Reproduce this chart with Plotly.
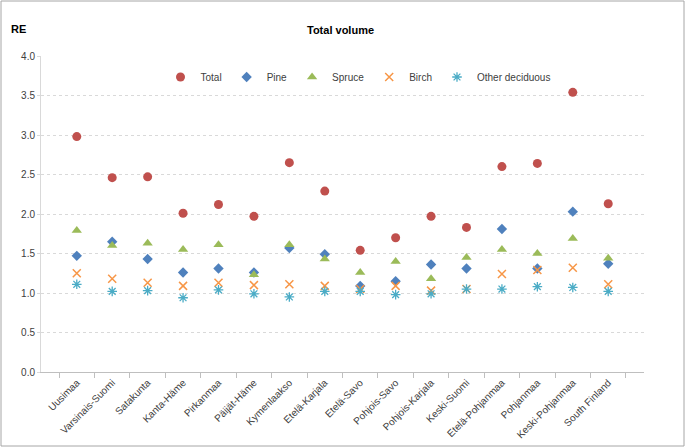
import plotly.graph_objects as go

regions = ["Uusimaa", "Varsinais-Suomi", "Satakunta", "Kanta-Häme", "Pirkanmaa",
           "Päijät-Häme", "Kymenlaakso", "Etelä-Karjala", "Etelä-Savo", "Pohjois-Savo",
           "Pohjois-Karjala", "Keski-Suomi", "Etelä-Pohjanmaa", "Pohjanmaa",
           "Keski-Pohjanmaa", "South Finland"]

total = [2.98, 2.46, 2.47, 2.01, 2.12, 1.97, 2.65, 2.29, 1.54, 1.70, 1.97, 1.83, 2.60, 2.64, 3.54, 2.13]
pine = [1.47, 1.65, 1.43, 1.26, 1.31, 1.26, 1.57, 1.49, 1.09, 1.15, 1.36, 1.31, 1.81, 1.31, 2.03, 1.37]
spruce = [1.79, 1.60, 1.63, 1.55, 1.61, 1.23, 1.61, 1.43, 1.26, 1.40, 1.18, 1.45, 1.55, 1.50, 1.69, 1.44]
birch = [1.25, 1.18, 1.13, 1.09, 1.13, 1.10, 1.11, 1.09, 1.05, 1.09, 1.03, 1.05, 1.24, 1.29, 1.32, 1.11]
other = [1.11, 1.02, 1.03, 0.94, 1.04, 0.99, 0.95, 1.02, 1.02, 0.98, 0.99, 1.05, 1.05, 1.08, 1.07, 1.02]

y_ticks = [0.0, 0.5, 1.0, 1.5, 2.0, 2.5, 3.0, 3.5, 4.0]

FONT = "Liberation Sans"
TXT = "#404040"

series = [
    ("Total", total, "circle", "#C0504D", 9, 0),
    ("Pine", pine, "diamond", "#4F81BD", 8, 0),
    ("Spruce", spruce, "triangle-up", "#9BBB59", 9, 0),
    ("Birch", birch, "x-thin-open", "#F79646", 8, 1.5),
    ("Other deciduous", other, "asterisk-open", "#4BACC6", 8, 1.3),
]

fig = go.Figure()
for name, vals, sym, col, size, lw in series:
    marker = dict(symbol=sym, color=col, size=size)
    if lw:
        marker["line"] = dict(color=col, width=lw)
    else:
        marker["line"] = dict(width=0)
    fig.add_trace(go.Scatter(x=regions, y=vals, mode="markers", name=name, marker=marker))

L, R, T, B = 41, 41, 56, 75
W, H = 685, 447
pw, ph = W - L - R, H - T - B

fig.update_layout(
    width=W, height=H,
    margin=dict(l=L, r=R, t=T, b=B, autoexpand=False),
    paper_bgcolor="white", plot_bgcolor="white",
    font=dict(family=FONT, size=10, color=TXT),
    showlegend=True,
    legend=dict(orientation="h", x=(358 - L) / pw, xanchor="center",
                y=(H - B - 77) / ph, yanchor="middle",
                font=dict(size=10, color=TXT), bgcolor="rgba(0,0,0,0)",
                itemwidth=30),
    xaxis=dict(type="category", showgrid=False, showline=True, linecolor="#BFBFBF",
               linewidth=1, ticks="outside", tickson="boundaries", ticklen=5,
               tickcolor="#BFBFBF", tickangle=-45, tickfont=dict(size=10, color=TXT),
               zeroline=False, automargin=False),
    yaxis=dict(range=[0, 4], tickvals=y_ticks, tickformat=".1f", showgrid=True,
               gridcolor="#D9D9D9", griddash="dot", showline=True, linecolor="#D9D9D9",
               zeroline=False, ticks="outside", ticklen=3, tickcolor="#D9D9D9",
               tickfont=dict(size=10, color=TXT), automargin=False),
    annotations=[
        dict(text="<b>Total volume</b>", xref="paper", yref="paper",
             x=(340 - L) / pw, y=(H - B - 30) / ph, showarrow=False,
             font=dict(size=11, color="#000000"), xanchor="center", yanchor="middle"),
        dict(text="<b>RE</b>", xref="paper", yref="paper",
             x=(18 - L) / pw, y=(H - B - 29) / ph, showarrow=False,
             font=dict(size=11, color="#000000"), xanchor="center", yanchor="middle"),
    ],
    shapes=[
        dict(type="rect", xref="paper", yref="paper",
             x0=(1 - L) / pw, x1=(W - 1 - L) / pw,
             y0=(H - B - (H - 1)) / ph, y1=(H - B - 1) / ph,
             line=dict(color="#A6A6A6", width=1), fillcolor="rgba(0,0,0,0)", layer="below"),
    ],
)

fig.write_html("out.html", config={"displayModeBar": False},
               post_script="document.body.style.margin='0px';")
